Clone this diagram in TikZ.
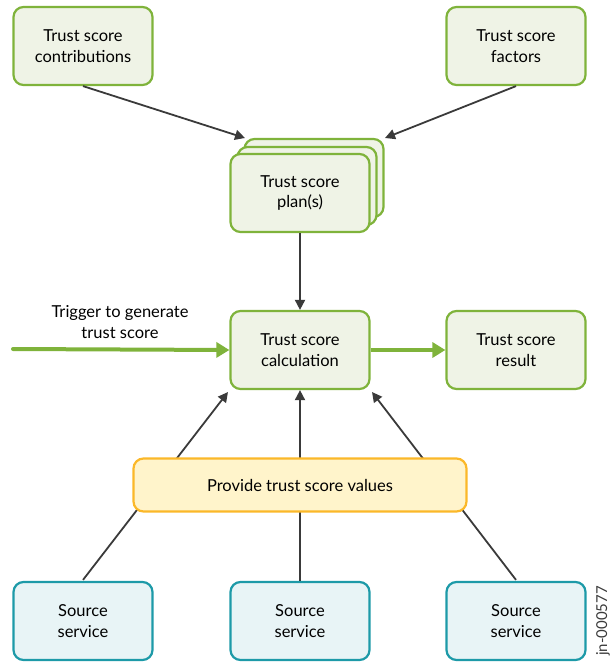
\documentclass[tikz,border=0pt]{standalone}
\usepackage{fontspec}
\setmainfont{Lato}
\usetikzlibrary{arrows.meta}
\definecolor{gborder}{HTML}{7FB33B}
\definecolor{gfill}{HTML}{EFF3E6}
\definecolor{tborder}{HTML}{1D9AA8}
\definecolor{tfill}{HTML}{E8F4F6}
\definecolor{oborder}{HTML}{FBB829}
\definecolor{ofill}{HTML}{FFF4CB}
\definecolor{darrow}{HTML}{3A3A3A}
\tikzset{
  txt/.style={font=\fontsize{16.5}{20.5}\selectfont, align=center},
  gbox/.style={txt, draw=gborder, fill=gfill, line width=2.2pt, rounded corners=10pt, minimum width=139pt, minimum height=78pt, inner sep=0pt},
  tbox/.style={gbox, draw=tborder, fill=tfill},
  obox/.style={gbox, draw=oborder, fill=ofill, minimum width=333pt, minimum height=53pt},
  darr/.style={draw=darrow, line width=1.8pt, -{Triangle[length=10pt,width=10pt]}},
  garr/.style={draw=gborder, line width=4pt, -{Triangle[length=13pt,width=15pt]}},
}
\begin{document}
\begin{tikzpicture}[x=1pt,y=-1pt]
\useasboundingbox (0,0) rectangle (611,664);
% top boxes
\node[gbox] (contrib) at (83,46) {Trust score\\contributions};
\node[gbox] (factors) at (516,46) {Trust score\\factors};
% plan stack
\node[gbox] (planb) at (314,178) {};
\node[gbox] (planm) at (307,186) {};
\node[gbox] (plan) at (300,193) {Trust score\\plan(s)};
% middle row
\node[gbox] (calc) at (300,350) {Trust score\\calculation};
\node[gbox] (result) at (516,350) {Trust score\\result};
\coordinate (trig) at (13,349);
\node[txt] (trigtxt) at (120,322) {Trigger to generate\\trust score};
% sources
\node[tbox] (s1) at (83,621) {Source\\service};
\node[tbox] (s2) at (300,621) {Source\\service};
\node[tbox] (s3) at (516,621) {Source\\service};
% lines from sources
\coordinate (c1) at (228,392);
\coordinate (c3) at (372,392);
\draw[darr] (s1.north) ++(0,-1) -- (c1);
\draw[darr] (s2.north) -- (calc.south);
\draw[darr] (s3.north) ++(0,-1) -- (c3);
\node[obox] (prov) at (300,485) {Provide trust score values};
% arrows
\coordinate (pl) at (245,138);
\coordinate (pr) at (385,138);
\draw[darr] (contrib.south) -- (pl);
\draw[darr] (factors.south) -- (pr);
\draw[darr] (plan.south) -- (calc.north);
\draw[garr, line cap=round] (trig) -- (calc.west);
\draw[garr] (calc.east) -- (result.west);
\node[rotate=90, font=\fontsize{15}{18}\selectfont, text=darrow] (id) at (603,621) {jn-000577};
\end{tikzpicture}
\end{document}
